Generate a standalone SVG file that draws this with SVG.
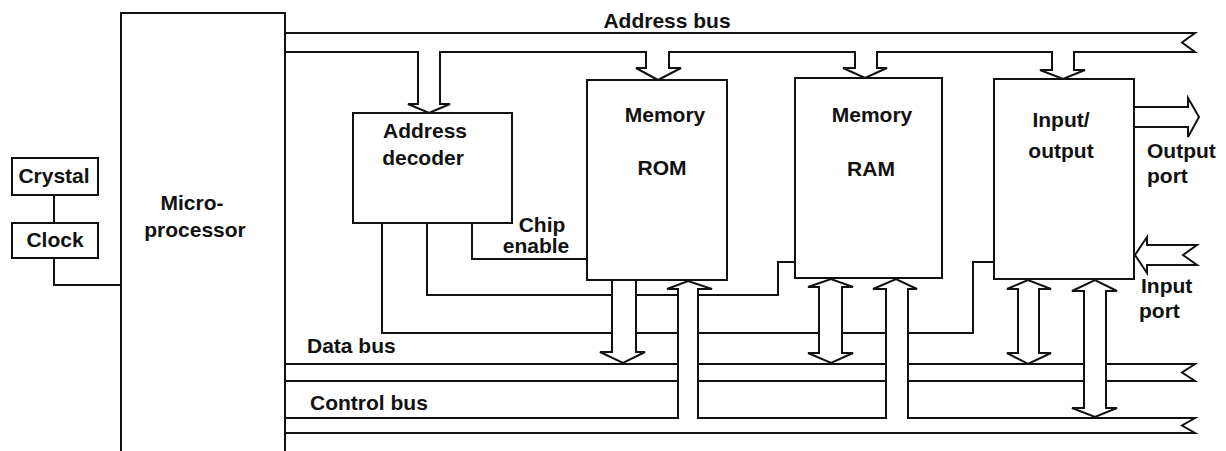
<svg xmlns="http://www.w3.org/2000/svg" width="1226" height="451" viewBox="0 0 1226 451">
<style>
.box{fill:#fff;stroke:#111;stroke-width:2}
.ln{fill:none;stroke:#111;stroke-width:2}
.ar{fill:#fff;stroke:#111;stroke-width:2;stroke-linejoin:miter}
.t{font-family:"Liberation Sans",Arial,sans-serif;font-weight:bold;font-size:21px;fill:#111}
.m{text-anchor:middle}
</style>
<rect width="1226" height="451" fill="#fff"/>
<g id="connectors">
  <!-- buses -->
  <path class="ln" d="M285,33 H1195 L1182,42.5 L1195,52 H285"/>
  <path class="ln" d="M285,364 H1195 L1182,372.5 L1195,381 H285"/>
  <path class="ln" d="M285,418 H1195 L1182,425.5 L1195,433 H285"/>
  <!-- clock to microprocessor -->
  <path class="ln" d="M54,195 V223"/>
  <path class="ln" d="M54,258 V285 H121"/>
  <!-- decoder select lines -->
  <path class="ln" d="M382,223 V333 H973 V262 H994"/>
  <path class="ln" d="M427,223 V295 H778 V262 H795"/>
  <path class="ln" d="M472,223 V259 H587"/>
  <!-- address bus arrows -->
  <path class="ar" d="M418,51 V104 H408 L429,113 L450,104 H440 V51"/>
  <path class="ar" d="M646,51 V68 H636 L658,80 L681,68 H669 V51"/>
  <path class="ar" d="M855,51 V68 H843 L865,78 L887,68 H877 V51"/>
  <path class="ar" d="M1052,51 V70 H1040 L1063,79 L1085,70 H1074 V51"/>
  <!-- ROM data (read only) -->
  <path class="ar" d="M612,280 V352 H600 L623,363 L645,352 H636 V280"/>
  <!-- control bus to ROM / RAM -->
  <path class="ar" d="M678,419 V289 H667 L688,281 L712,289 H698 V419"/>
  <path class="ar" d="M886,419 V289 H873 L896,279 L917,289 H908 V419"/>
  <!-- RAM data bidirectional -->
  <path class="ar" d="M819,287 H808 L831,279 L853,287 H842 V353 H853 L831,363 L808,353 H819 Z"/>
  <!-- I/O data bidirectional -->
  <path class="ar" d="M1018,289 H1007 L1028,280 L1051,289 H1039 V353 H1051 L1028,364 L1007,353 H1018 Z"/>
  <!-- I/O control bidirectional -->
  <path class="ar" d="M1084,291 H1072 L1095,280 L1117,291 H1106 V408 H1117 L1095,417 L1072,408 H1084 Z"/>
  <!-- output port -->
  <path class="ar" d="M1134,107 H1188 V98 L1199,117 L1188,137 V127 H1134"/>
  <!-- input port -->
  <path class="ar" d="M1197,245 H1147 V237 L1135,255 L1147,273 V265 H1197 L1183,255 Z"/>
</g>
<g id="microprocessor">
  <path class="box" d="M121,452 V13 H285 V452"/>
  <text class="t m" x="192" y="210">Micro-</text>
  <text class="t m" x="195" y="237">processor</text>
</g>
<g id="crystal">
  <rect class="box" x="12" y="158" width="86" height="37"/>
  <text class="t m" x="54" y="183">Crystal</text>
</g>
<g id="clock">
  <rect class="box" x="12" y="223" width="86" height="35"/>
  <text class="t m" x="55" y="247">Clock</text>
</g>
<g id="address-decoder">
  <rect class="box" x="353" y="113" width="159" height="110"/>
  <text class="t m" x="425" y="138">Address</text>
  <text class="t m" x="423" y="165">decoder</text>
</g>
<g id="rom">
  <rect class="box" x="587" y="80" width="140" height="200"/>
  <text class="t m" x="665" y="122">Memory</text>
  <text class="t m" x="662" y="175">ROM</text>
</g>
<g id="ram">
  <rect class="box" x="795" y="78" width="147" height="200"/>
  <text class="t m" x="872" y="122">Memory</text>
  <text class="t m" x="871" y="176">RAM</text>
</g>
<g id="io">
  <rect class="box" x="994" y="79" width="140" height="200"/>
  <text class="t m" x="1061" y="127">Input/</text>
  <text class="t m" x="1061" y="158">output</text>
</g>
<g id="labels">
  <text class="t m" x="667" y="28">Address bus</text>
  <text class="t m" x="542" y="232">Chip</text>
  <text class="t m" x="536" y="253">enable</text>
  <text class="t" x="1147" y="158">Output</text>
  <text class="t" x="1147" y="183">port</text>
  <text class="t" x="1141" y="293">Input</text>
  <text class="t" x="1139" y="318">port</text>
  <text class="t" x="307" y="353">Data bus</text>
  <text class="t" x="310" y="410">Control bus</text>
</g>
</svg>
